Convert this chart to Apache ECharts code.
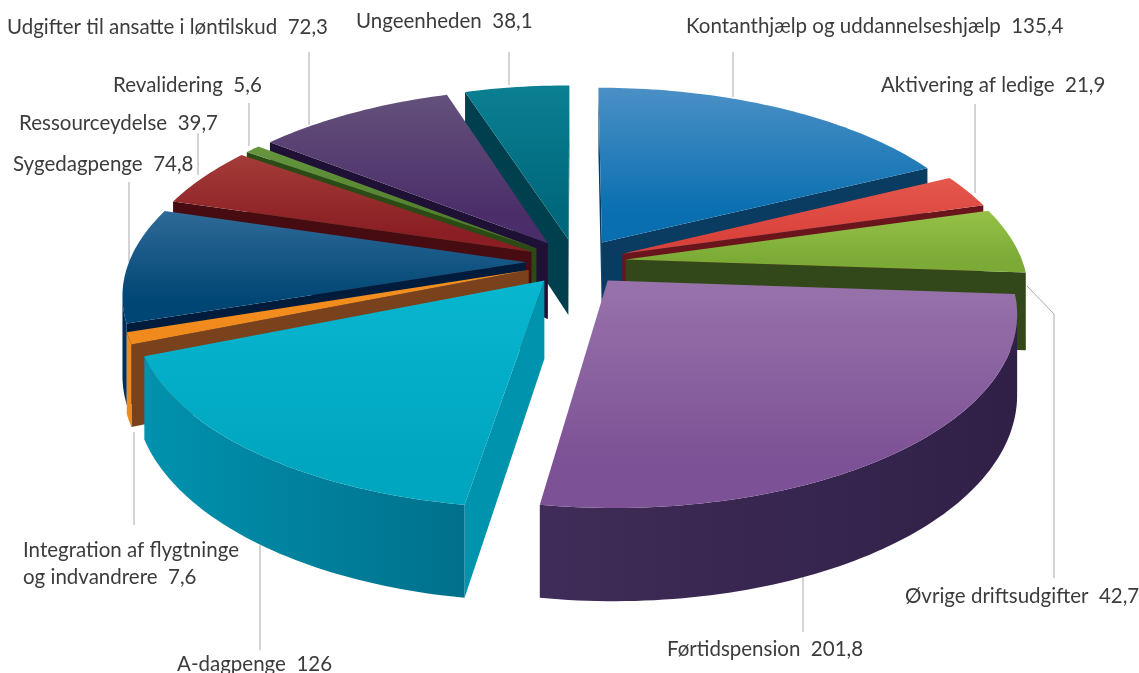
<!DOCTYPE html>
<html><head><meta charset="utf-8">
<style>html,body{margin:0;padding:0;background:#fff}#c{width:1139px;height:673px}</style>
<script src="https://cdn.jsdelivr.net/npm/echarts@6/dist/echarts.min.js"></script>
</head><body><div id="c"></div>
<script>
const categories = ['Kontanthjælp og uddannelseshjælp','Aktivering af ledige','Øvrige driftsudgifter','Førtidspension','A-dagpenge','Integration af flygtninge\nog indvandrere','Sygedagpenge','Ressourceydelse','Revalidering','Udgifter til ansatte i løntilskud','Ungeenheden'];
const values = [135.4,21.9,42.7,201.8,126,7.6,74.8,39.7,5.6,72.3,38.1];
// colours: top back, top front, rim left, rim right, radial wall
const topBack  = ['#4b90c6','#e5574c','#96c148','#9873ab','#08b6d0','#f4911f','#2f6a98','#a43c38','#67963f','#64517b','#0b8093'];
const topFront = ['#0a6fb0','#d9423b','#7bab36','#7d5195','#00a6c0','#f08a1c','#004674','#8a1e24','#4e7c2a','#4b2e69','#00687c'];
const rimLeft  = ['#0a4068','#6e1a1c','#3b5a1a','#3f2c58','#0092ae','#f08a1c','#00305a','#5a1015','#2f5016','#2a1840','#004a5a'];
const rimRight = ['#0a4068','#6e1a1c','#3b5a1a','#302047','#00708c','#f08a1c','#00305a','#5a1015','#2f5016','#2a1840','#004a5a'];
const wallColor= ['#0a3c62','#6a151c','#33481a','#4a3060','#0093ad','#7a421c','#001c3c','#470b12','#2b4a14','#1f1035','#003f4e'];
// label layout: x, y of the text; leader polyline
const labelX = [686,881,905,667,177,23,13,19,113,7,356];
const labelY = [26,85,596,649,664,564,164,123,85,27,21];
const leaders = [
 [[733,52],[733,97]],[[975,104],[975,193]],[[1027,286],[1054,314],[1054,578]],[[803,575],[803,632]],
 [[260,545],[260,650]],[[134,432],[134,525]],[[129,182],[129,262]],[[198,133],[198,175]],
 [[249,103],[249,146]],[[309,52],[309,125]],[[509,52],[509,85]]];
// projection parameters
const cx=576, cy=262, R=397, tilt=0.466, D=2508, H=77, EXPL=50;

const total = values.reduce((a,b)=>a+b,0);
const angleScale = v => v/total*Math.PI*2;
const starts=[]; let acc=0; values.forEach(v=>{starts.push(acc); acc+=angleScale(v);});
const mids = values.map((v,i)=>starts[i]+angleScale(v)/2);
const order = values.map((_,i)=>i).sort((a,b)=>(-Math.cos(mids[a]))-(-Math.cos(mids[b])));

function proj(X,Y,z){ const s=1/(1-Y/D); return [cx+X*s, cy+(Y*tilt+H-z)*s]; }
function pt(i,r,a,z){ const ox=Math.sin(mids[i])*EXPL, oy=-Math.cos(mids[i])*EXPL;
  return proj(ox+Math.sin(a)*r, oy-Math.cos(a)*r, z); }
function area(p){ let s=0; p.forEach((q,k)=>{const n=p[(k+1)%p.length]; s+=q[0]*n[1]-n[0]*q[1];}); return s; }
function vGrad(c0,c1){ return new echarts.graphic.LinearGradient(0,0,0,1,[{offset:0,color:c0},{offset:0.8,color:c1},{offset:1,color:c1}]); }
function hGrad(c0,c1){ return new echarts.graphic.LinearGradient(0,0,1,0,[{offset:0,color:c0},{offset:1,color:c1}]); }

function renderItem(params,api){
  const i=api.value(0), v=api.value(1);
  const a0=starts[i], a1=a0+angleScale(v);
  const n=Math.max(6,Math.ceil((a1-a0)/0.02));
  const arcTop=[],arcBot=[];
  for(let k=0;k<=n;k++){const a=a0+(a1-a0)*k/n; arcTop.push(pt(i,R,a,H)); arcBot.push(pt(i,R,a,0));}
  const apexTop=pt(i,0,0,H), apexBot=pt(i,0,0,0);
  const children=[];
  const poly=(points,fill)=>children.push({type:'polygon',shape:{points},style:{fill,stroke:null}});
  const wallA=[apexTop,arcTop[0],arcBot[0],apexBot];
  if(area(wallA)<0) poly(wallA,wallColor[i]);
  const wallB=[arcTop[n],apexTop,apexBot,arcBot[n]];
  if(area(wallB)<0) poly(wallB,wallColor[i]);
  // rim: contiguous front-facing part of the arc
  let runT=[],runB=[];
  const flush=()=>{ if(runT.length>1) poly(runT.concat(runB.slice().reverse()),hGrad(rimLeft[i],rimRight[i])); runT=[];runB=[]; };
  for(let k=0;k<n;k++){
    const q=[arcTop[k],arcTop[k+1],arcBot[k+1],arcBot[k]];
    if(area(q)<0){ if(!runT.length){runT.push(arcTop[k]);runB.push(arcBot[k]);} runT.push(arcTop[k+1]);runB.push(arcBot[k+1]); }
    else flush();
  }
  flush();
  poly([apexTop].concat(arcTop),vGrad(topBack[i],topFront[i]));
  return {type:'group',children};
}
const fmt=v=>String(v).replace('.',',');
const graphic=[];
leaders.forEach(l=>graphic.push({type:'polyline',silent:true,shape:{points:l},style:{stroke:'#a8a8a8',lineWidth:1,fill:null}}));
categories.forEach((c,i)=>graphic.push({type:'text',silent:true,x:labelX[i],y:labelY[i],
  style:{text:c+'  '+fmt(values[i]),font:'20.5px Lato',fill:'#3c3c3c',textVerticalAlign:'middle',lineHeight:27}}));
const chart=echarts.init(document.getElementById('c'),null,{renderer:'canvas'});
chart.setOption({animation:false,backgroundColor:'#fff',graphic,
  series:[{type:'custom',coordinateSystem:'none',silent:true,renderItem,
    data:order.map(i=>[i,values[i]]),encode:{value:1}}]});
</script></body></html>
